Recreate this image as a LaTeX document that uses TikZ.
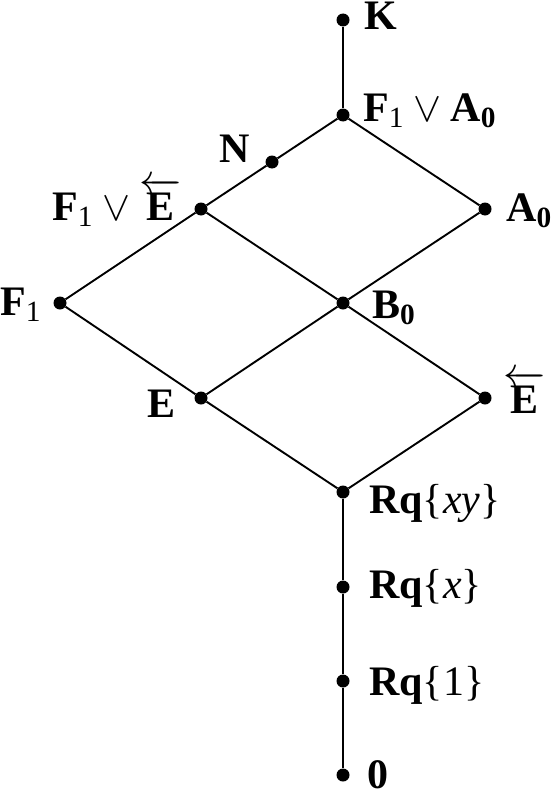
\RequirePackage{fix-cm}
\documentclass[tikz,border=0pt]{standalone}
\usepackage{fontspec}
\setmainfont{Liberation Serif}
\newcommand{\orvee}{\hspace{0.22em}$\vee$\hspace{0.22em}}
\newcommand{\backE}{$\overleftarrow{\hbox{\bfseries E}}$}
\begin{document}
\begin{tikzpicture}[x=1pt,y=-1pt,
  dot/.style={circle,fill=black,inner sep=0pt,minimum size=13pt},
  edge/.style={line width=1.9pt},
  lab/.style={inner sep=0pt,font=\fontsize{42}{48}\selectfont},
  labr/.style={lab,anchor=base west},
  labl/.style={lab,anchor=base east}]
\useasboundingbox (0,0) rectangle (552,792);
% dots
\node[dot] (K)   at (343,20)  {};
\node[dot] (FA)  at (343,115) {};
\node[dot] (N)   at (272,162) {};
\node[dot] (FE)  at (201,209) {};
\node[dot] (A)   at (485,209) {};
\node[dot] (F)   at (60,303)  {};
\node[dot] (B)   at (343,303) {};
\node[dot] (E)   at (201,398) {};
\node[dot] (Eb)  at (485,398) {};
\node[dot] (Rxy) at (343,492) {};
\node[dot] (Rx)  at (343,587) {};
\node[dot] (R1)  at (343,681) {};
\node[dot] (Z)   at (343,775) {};
% edges
\draw[edge] (K) -- (FA);
\draw[edge] (FA) -- (N);
\draw[edge] (N) -- (FE);
\draw[edge] (FA) -- (A);
\draw[edge] (FE) -- (F);
\draw[edge] (FE) -- (B);
\draw[edge] (A) -- (B);
\draw[edge] (F) -- (E);
\draw[edge] (B) -- (E);
\draw[edge] (B) -- (Eb);
\draw[edge] (E) -- (Rxy);
\draw[edge] (Eb) -- (Rxy);
\draw[edge] (Rxy) -- (Rx);
\draw[edge] (Rx) -- (R1);
\draw[edge] (R1) -- (Z);
% labels
\node[labr] (lK) at (364,30) {\textbf{K}};
\node[labr] (lFA) at (363,121) {\textbf{F}\textsubscript{1}\orvee\textbf{A}\textsubscript{\bfseries 0}};
\node[labl] (lN) at (250,162) {\textbf{N}};
\node[labr] (lFE) at (52,220) {\textbf{F}\textsubscript{1}\orvee\backE};
\node[labr] (lA) at (506,221) {\textbf{A}\textsubscript{\bfseries 0}};
\node[labr] (lF) at (0,315) {\textbf{F}\textsubscript{1}};
\node[labr] (lB) at (372,318) {\textbf{B}\textsubscript{\bfseries 0}};
\node[labl] (lE) at (176,417) {\textbf{E}};
\node[labr] (lEb) at (503,413) {\backE};
\node[labr] (lRxy) at (369,513) {\textbf{Rq}\{\textit{xy}\}};
\node[labr] (lRx) at (369,598) {\textbf{Rq}\{\textit{x}\}};
\node[labr] (lR1) at (369,695) {\textbf{Rq}\{1\}};
\node[labr] (lZ) at (367,788) {\textbf{0}};
\end{tikzpicture}
\end{document}
